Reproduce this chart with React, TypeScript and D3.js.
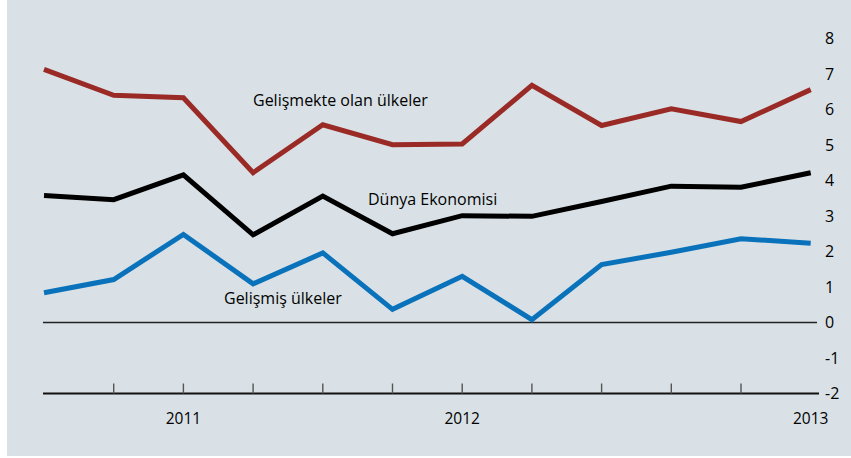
import React from "react";
import * as d3 from "d3";

const quarters = ["2010Ç3","2010Ç4","2011Ç1","2011Ç2","2011Ç3","2011Ç4","2012Ç1","2012Ç2","2012Ç3","2012Ç4","2013Ç1","2013Ç2"];
const emerging = [7.13, 6.4, 6.33, 4.22, 5.57, 5.01, 5.03, 6.68, 5.55, 6.02, 5.66, 6.56];
const world = [3.58, 3.46, 4.16, 2.47, 3.56, 2.5, 3.01, 2.99, 3.41, 3.84, 3.81, 4.22];
const advanced = [0.84, 1.21, 2.48, 1.09, 1.96, 0.37, 1.3, 0.08, 1.63, 1.98, 2.36, 2.23];
const yTicks = [-2, -1, 0, 1, 2, 3, 4, 5, 6, 7, 8];
const yearLabels = [
  { idx: 2, label: "2011" },
  { idx: 6, label: "2012" },
  { idx: 11, label: "2013" },
];
const seriesLabels = [
  { text: "Gelişmekte olan ülkeler", x: 253, y: 106 },
  { text: "Dünya Ekonomisi", x: 368, y: 205 },
  { text: "Gelişmiş ülkeler", x: 224, y: 304 },
];

const W = 851;
const H = 458;
const FONT = "'Open Sans', 'Noto Sans', sans-serif";

export default function App() {
  const x = d3.scaleLinear().domain([0, quarters.length - 1]).range([44, 810.7]);
  const y = d3.scaleLinear().domain([-2, 8]).range([393.5, 38.5]);
  const line = d3
    .line<number>()
    .x((_, i) => x(i))
    .y((d) => y(d))
    .curve(d3.curveLinear);

  const series = [
    { data: emerging, color: "#9a2a26" },
    { data: world, color: "#000000" },
    { data: advanced, color: "#0a72ba" },
  ];

  return (
    <svg
      width={W}
      height={H}
      style={{ position: "absolute", left: 0, top: 0, display: "block" }}
      fontFamily={FONT}
    >
      <rect x={0} y={0} width={W} height={H} fill="#ffffff" />
      <rect x={7} y={0} width={W - 7} height={456} fill="#d9e1e6" />

      {/* zero line */}
      <line x1={43} x2={817} y1={y(0)} y2={y(0)} stroke="#222" strokeWidth={1.5} />
      {/* x axis */}
      <line x1={43} x2={819} y1={y(-2)} y2={y(-2)} stroke="#111" strokeWidth={1.8} />
      {quarters.slice(1, quarters.length - 1).map((q, i) => (
        <line
          key={q}
          x1={x(i + 1)}
          x2={x(i + 1)}
          y1={y(-2)}
          y2={y(-2) - 10}
          stroke="#555"
          strokeWidth={1.4}
        />
      ))}

      {series.map((s, i) => (
        <path
          key={i}
          d={line(s.data) || ""}
          fill="none"
          stroke={s.color}
          strokeWidth={5}
          strokeLinejoin="miter"
          strokeLinecap="butt"
        />
      ))}

      {yTicks.map((t) => (
        <text
          key={t}
          x={825}
          y={y(t)}
          dy="0.35em"
          fontSize={16}
          fill="#000"
          textAnchor="start"
        >
          {t}
        </text>
      ))}

      {yearLabels.map((yl) => (
        <text
          key={yl.label}
          x={x(yl.idx)}
          y={424}
          fontSize={15.5}
          fill="#000"
          textAnchor="middle"
        >
          {yl.label}
        </text>
      ))}

      {seriesLabels.map((sl) => (
        <text key={sl.text} x={sl.x} y={sl.y} fontSize={16} fill="#000">
          {sl.text}
        </text>
      ))}
    </svg>
  );
}
